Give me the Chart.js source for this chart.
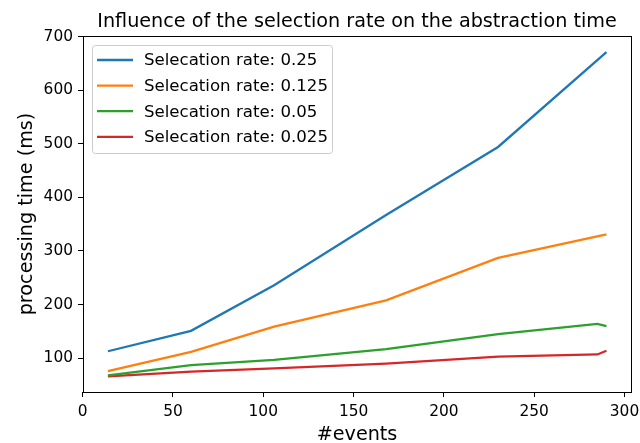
<!DOCTYPE html>
<html>
<head>
<meta charset="utf-8">
<script src="https://cdn.jsdelivr.net/npm/chart.js@4/dist/chart.umd.min.js"></script>
<style>
  html, body { margin: 0; padding: 0; background: #fff; }
  canvas { display: block; }
</style>
</head>
<body>
<canvas id="c" width="640" height="443"></canvas>
<script>
// data
const eventsMain = [14, 60, 106, 168, 230, 290];
const eventsLow = [14, 60, 106, 168, 230, 285, 290];
const rate025 = [113, 151, 236, 367, 494, 671];
const rate0125 = [76, 112, 159, 208, 287, 331];
const rate005 = [68, 87, 97, 117, 145, 164, 160];
const rate0025 = [66, 75, 81, 90, 103, 107, 114];
const xTicks = [0, 50, 100, 150, 200, 250, 300];
const yTicks = [100, 200, 300, 400, 500, 600, 700];

const FONT = '"DejaVu Sans", sans-serif';

function pts(xs, ys) {
  return xs.map((x, i) => ({ x, y: ys[i] }));
}

function series(label, xs, ys, color) {
  return {
    label, data: pts(xs, ys), borderColor: color, backgroundColor: color,
    borderWidth: 2.3, pointRadius: 0, tension: 0, fill: false
  };
}

// frame, legend box and texts, drawn matplotlib-like
const decor = {
  id: 'decor',
  afterDatasetsDraw(chart) {
    const { ctx, chartArea: a } = chart;
    ctx.save();
    ctx.strokeStyle = '#000';
    ctx.lineWidth = 1;
    ctx.strokeRect(Math.round(a.left) + 0.5, Math.round(a.top) + 0.5,
      Math.round(a.right - a.left), Math.round(a.bottom - a.top));

    // legend
    const bx = 92, by = 45, bw = 240, bh = 108;
    ctx.fillStyle = 'rgba(255,255,255,0.8)';
    ctx.strokeStyle = '#cccccc';
    ctx.beginPath();
    ctx.roundRect(bx + 0.5, by + 0.5, bw, bh, 3);
    ctx.fill();
    ctx.stroke();
    ctx.font = '16.6px ' + FONT;
    ctx.textBaseline = 'middle';
    chart.data.datasets.forEach((ds, i) => {
      const y = 60 + i * 25.6;
      ctx.strokeStyle = ds.borderColor;
      ctx.lineWidth = 2.3;
      ctx.beginPath();
      ctx.moveTo(97, y);
      ctx.lineTo(133, y);
      ctx.stroke();
      ctx.fillStyle = '#000';
      ctx.fillText(ds.label, 144, y + 1);
    });

    // title and axis labels
    ctx.fillStyle = '#000';
    ctx.textAlign = 'center';
    ctx.textBaseline = 'alphabetic';
    ctx.font = '19.2px ' + FONT;
    ctx.fillText('Influence of the selection rate on the abstraction time', (a.left + a.right) / 2, 27);
    ctx.fillText('#events', (a.left + a.right) / 2, 440);
    ctx.translate(32, (a.top + a.bottom) / 2);
    ctx.rotate(-Math.PI / 2);
    ctx.fillText('processing time (ms)', 0, 0);
    ctx.restore();
  }
};

const tickStyle = { color: '#000', font: { family: FONT, size: 15.4 } };

function noPad(s) {
  s.paddingLeft = 0; s.paddingRight = 0; s.paddingTop = 0; s.paddingBottom = 0;
}

new Chart(document.getElementById('c'), {
  type: 'line',
  data: {
    datasets: [
      series('Selecation rate: 0.25', eventsMain, rate025, '#1f77b4'),
      series('Selecation rate: 0.125', eventsMain, rate0125, '#ff7f0e'),
      series('Selecation rate: 0.05', eventsLow, rate005, '#2ca02c'),
      series('Selecation rate: 0.025', eventsLow, rate0025, '#d62728')
    ]
  },
  options: {
    responsive: false, animation: false,
    layout: { padding: { top: 36, right: 9, left: 0, bottom: 0 } },
    plugins: { legend: { display: false }, tooltip: { enabled: false }, title: { display: false } },
    scales: {
      x: {
        type: 'linear', min: 0.2, max: 303.6,
        afterBuildTicks: s => { s.ticks = xTicks.map(v => ({ value: v })); },
        afterFit: s => { s.height = 51; noPad(s); },
        grid: { drawOnChartArea: false, drawTicks: true, tickLength: 5, color: '#000' },
        border: { display: false },
        ticks: { ...tickStyle, padding: 6, maxRotation: 0, autoSkip: false }
      },
      y: {
        min: 37, max: 701,
        afterBuildTicks: s => { s.ticks = yTicks.map(v => ({ value: v })); },
        afterFit: s => { s.width = 83; noPad(s); },
        grid: { drawOnChartArea: false, drawTicks: true, tickLength: 5, color: '#000' },
        border: { display: false },
        ticks: { ...tickStyle, padding: 5 }
      }
    }
  },
  plugins: [decor]
});
</script>
</body>
</html>
